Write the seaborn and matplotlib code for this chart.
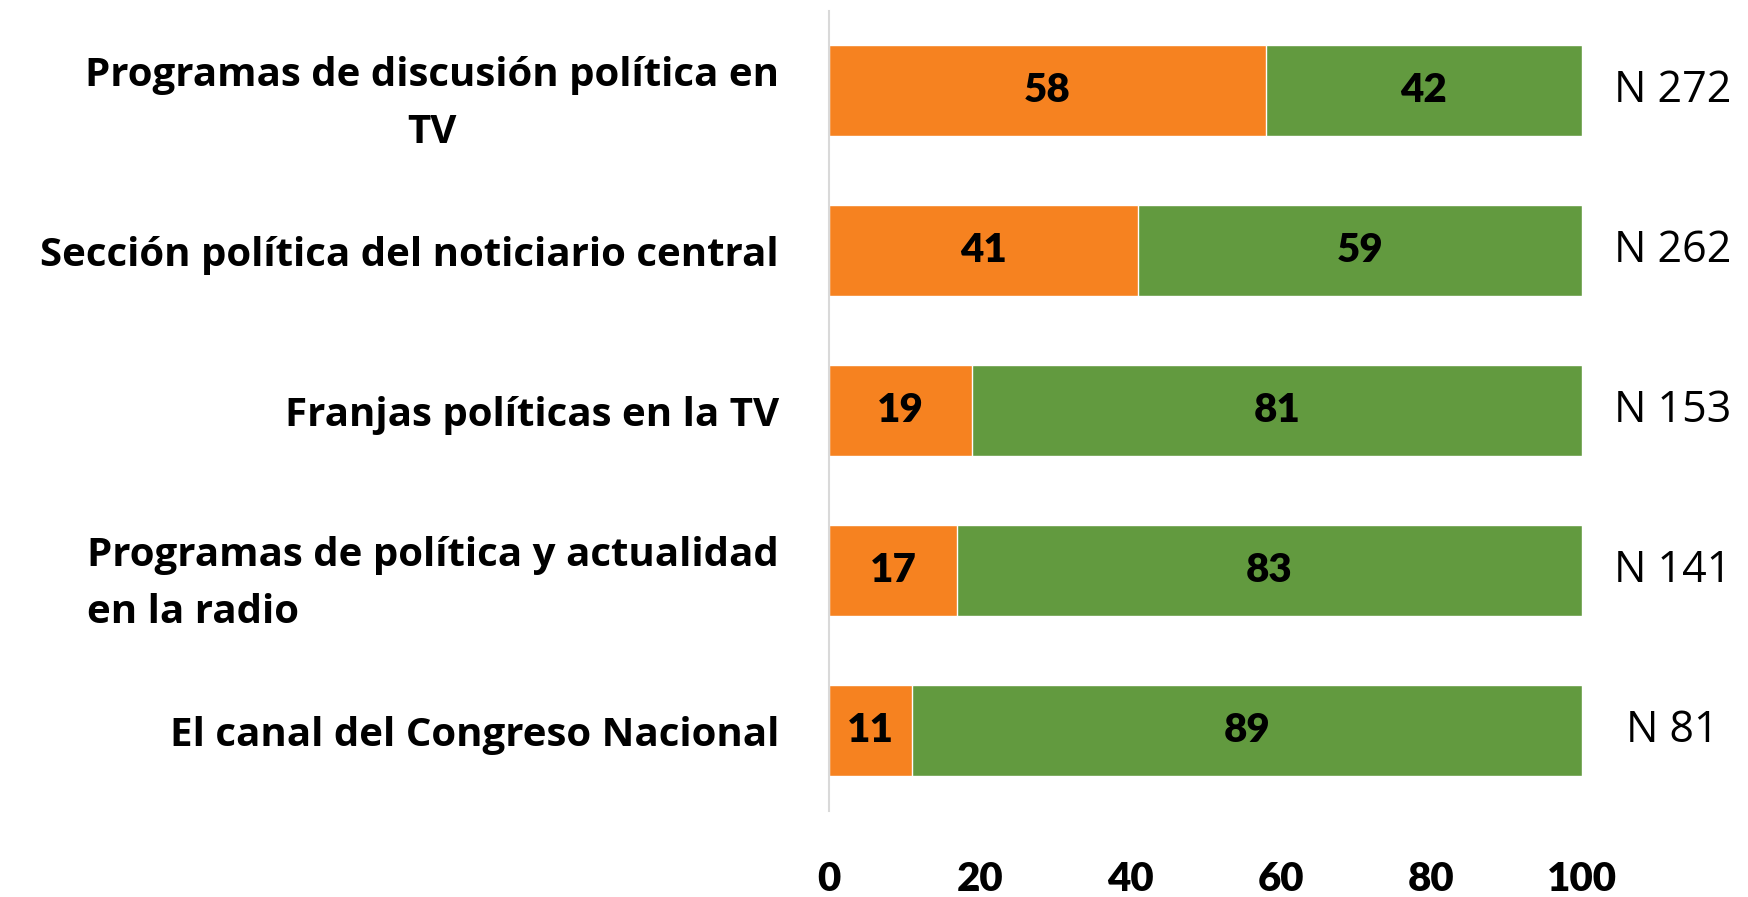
import matplotlib.pyplot as plt
import pandas as pd
import seaborn as sns

# categorias y porcentajes
categorias = ['Programas de discusión política en\nTV',
              'Sección política del noticiario central',
              'Franjas políticas en la TV',
              'Programas de política y actualidad\nen la radio',
              'El canal del Congreso Nacional']
si = [58, 41, 19, 17, 11]
no = [42, 59, 81, 83, 89]
n_casos = [272, 262, 153, 141, 81]
alineacion = ['center', 'center', 'center', 'left', 'center']

df = pd.DataFrame({'Medio': categorias, 'Si': si, 'No': no})
df['Total'] = df['Si'] + df['No']

sns.set_style('white')
plt.rcParams['font.family'] = ['Lato', 'DejaVu Sans']
plt.rcParams['text.color'] = 'black'
plt.rcParams['xtick.color'] = 'black'
plt.rcParams['ytick.color'] = 'black'

naranja = '#F68220'
verde = '#629A3F'

fig, ax = plt.subplots(figsize=(17.49, 8.97), dpi=100)
fig.subplots_adjust(left=0.474, right=0.9045, top=0.988, bottom=0.096)

# verde debajo (total), naranja encima
sns.barplot(data=df, y='Medio', x='Total', color=verde, width=0.57,
            saturation=1, ax=ax)
sns.barplot(data=df, y='Medio', x='Si', color=naranja, width=0.57,
            saturation=1, ax=ax)

for i, (s, n) in enumerate(zip(si, no)):
    ax.text(s / 2, i, str(s), ha='center', va='center', fontsize=29,
            fontweight='heavy', color='black')
    ax.text(s + n / 2, i, str(n), ha='center', va='center', fontsize=29,
            fontweight='heavy', color='black')
    ax.text(112, i, f'N {n_casos[i]}', ha='center', va='center',
            fontsize=31, family=['Open Sans', 'DejaVu Sans'], color='black')

ax.set_xlim(0, 100)
ax.set_ylim(4.5, -0.5)
ax.set_xticks([0, 20, 40, 60, 80, 100])
ax.set_xlabel('')
ax.set_ylabel('')

for lado in ['top', 'right', 'bottom']:
    ax.spines[lado].set_visible(False)
ax.spines['left'].set_color('#D9D9D9')
ax.spines['left'].set_linewidth(1.5)

ax.tick_params(axis='x', length=0, pad=36, labelsize=29)
ax.tick_params(axis='y', length=0, pad=36, labelsize=29)
for lab in ax.get_xticklabels():
    lab.set_fontweight('heavy')
for lab, al in zip(ax.get_yticklabels(), alineacion):
    lab.set_fontweight('bold')
    lab.set_family(['Open Sans', 'DejaVu Sans'])
    lab.set_fontsize(29)
    lab.set_multialignment(al)
    lab.set_linespacing(1.6)

plt.savefig('out.png', dpi=100)
